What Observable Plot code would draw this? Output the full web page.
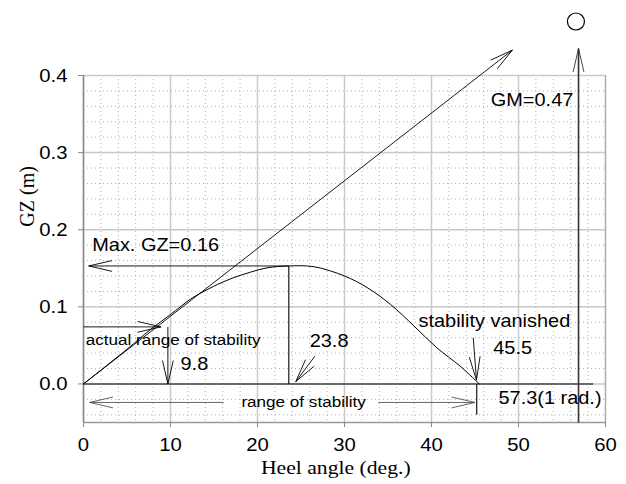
<!DOCTYPE html>
<html><head><meta charset="utf-8">
<script src="https://cdn.jsdelivr.net/npm/d3@7"></script>
<script src="https://cdn.jsdelivr.net/npm/@observablehq/plot@0.6"></script>
<style>body{margin:0;background:#fff}</style>
</head><body><div id="chart"></div>
<script>
// ---- data ----
const heelAngle = [0, 5, 7.7, 10, 12.3, 13.5, 15.4, 17.3, 19.2, 21.1, 23.6, 26.5, 30, 32.6, 35.3, 38, 40.6, 43.3, 45.5];
const gzValues  = [0, 0.045, 0.0706, 0.090, 0.110, 0.118, 0.129, 0.138, 0.145, 0.1506, 0.153, 0.152, 0.140, 0.125, 0.103, 0.075, 0.047, 0.023, 0];

const xTicks = [0, 10, 20, 30, 40, 50, 60];
const yTicks = [0, 0.1, 0.2, 0.3, 0.4];

// annotation arrows (start -> tip), in data units
const arrowNames  = ["tangent", "gm", "maxGZ", "actualRange", "a98", "a238", "vanish", "rangeLeft", "rangeRight"];
const arrowStartX = [0, 56.9, 23.6, 0, 9.7, 26.6, 44.8, 16.1, 33.9];
const arrowStartY = [0, -0.05, 0.153, 0.074, 0.074, 0.036, 0.060, -0.024, -0.024];
const arrowTipX   = [49.3, 56.9, 0.6, 8.9, 9.7, 24.4, 45.17, 0.7, 45.0];
const arrowTipY   = [0.433, 0.435, 0.153, 0.074, 0.0, 0.003, 0.005, -0.024, -0.024];

// plain lines
const lineStartX = [0, 23.6, 45.2];
const lineStartY = [0, 0, 0];
const lineEndX   = [58.6, 23.6, 45.2];
const lineEndY   = [0, 0.153, -0.04];

// GM point
const gmPointX = [56.6];
const gmPointY = [0.47];

// texts
const labelTexts = ["Max. GZ=0.16", "GM=0.47", "actual range of stability", "9.8", "23.8", "stability vanished", "45.5", "57.3(1 rad.)", "range of stability"];
const labelX     = [1.0, 56.3, 0.25, 11.15, 26.0, 38.5, 47.1, 47.7, 25.3];
const labelY     = [0.180, 0.3675, 0.057, 0.0256, 0.0555, 0.081, 0.0457, -0.019, -0.024];

// ---- layout ----
const W = 626, H = 484;
const mL = 83, mR = 21, mT = 75, mB = 62;
const xDomain = [0, 60], yDomain = [-0.05, 0.4];
const sx = Plot.scale({x: {domain: xDomain, range: [mL, W - mR]}});
const sy = Plot.scale({y: {domain: yDomain, range: [H - mB, mT]}});

const curve = heelAngle.map((x, i) => ({x, y: gzValues[i]}));
const arrows = arrowNames.map((name, i) => ({name, x1: arrowStartX[i], y1: arrowStartY[i], x2: arrowTipX[i], y2: arrowTipY[i]}));
const lines = lineStartX.map((x1, i) => ({x1, y1: lineStartY[i], x2: lineEndX[i], y2: lineEndY[i]}));
const labels = labelTexts.map((text, i) => ({text, x: labelX[i], y: labelY[i]}));

function heads(list, L, deg) {
  const out = [];
  const t = deg * Math.PI / 180;
  for (const a of list) {
    const px1 = sx.apply(a.x1), py1 = sy.apply(a.y1), px2 = sx.apply(a.x2), py2 = sy.apply(a.y2);
    const len = Math.hypot(px1 - px2, py1 - py2);
    const ux = (px1 - px2) / len, uy = (py1 - py2) / len;
    for (const s of [-1, 1]) {
      const c = Math.cos(s * t), si = Math.sin(s * t);
      const wx = px2 + L * (ux * c - uy * si), wy = py2 + L * (ux * si + uy * c);
      out.push({name: a.name, x1: a.x2, y1: a.y2, x2: sx.invert(wx), y2: sy.invert(wy)});
    }
  }
  return out;
}
const arrowColor = (d) => d.name.startsWith("range") ? "#555" : (d.name === "gm" ? "#333" : "#000");
const headData = heads(arrows, 24, 13);

const sans = "'Liberation Sans', Arial, Helvetica, sans-serif";
const serif = "'Liberation Serif', 'Times New Roman', serif";
const smallSet = new Set(["actual range of stability", "range of stability"]);
const endSet = new Set(["GM=0.47"]);
const middleSet = new Set(["range of stability"]);
const startLabels = labels.filter(d => !endSet.has(d.text) && !middleSet.has(d.text));
const endLabels = labels.filter(d => endSet.has(d.text));
const middleLabels = labels.filter(d => middleSet.has(d.text));
const fs = d => smallSet.has(d.text) ? 15 : 17.5;

const chart = Plot.plot({
  width: W, height: H,
  marginLeft: mL, marginRight: mR, marginTop: mT, marginBottom: mB,
  x: {domain: xDomain},
  y: {domain: yDomain},
  style: {fontFamily: sans, background: "#fff", overflow: "visible"},
  marks: [
    // minor grid
    Plot.gridX({ticks: d3.range(2, 60, 2), stroke: "#b0b0b0", strokeOpacity: 1, strokeDasharray: "1,3", strokeWidth: 1}),
    Plot.gridY({ticks: d3.range(-2, 20).map(k => +(k * 0.02).toFixed(2)), stroke: "#b0b0b0", strokeOpacity: 1, strokeDasharray: "1,3", strokeWidth: 1}),
    // major grid
    Plot.gridX({ticks: xTicks, stroke: "#cacaca", strokeOpacity: 1, strokeWidth: 1.5}),
    Plot.gridY({ticks: yTicks, stroke: "#cacaca", strokeOpacity: 1, strokeWidth: 1.5}),
    // frame
    Plot.ruleX([60], {stroke: "#aaa", strokeWidth: 1.2}),
    Plot.ruleY([-0.05], {stroke: "#999", strokeWidth: 1.5}),
    Plot.ruleX([0], {stroke: "#888", strokeWidth: 1.5}),
    // axes
    Plot.axisX({ticks: xTicks, tickSize: 5, tickPadding: 10, fontSize: 19, stroke: "#888", fill: "#000", label: null}),
    Plot.axisY({ticks: yTicks, tickSize: 5, tickPadding: 11, fontSize: 19, stroke: "#888", fill: "#000", label: null, tickFormat: d => d.toFixed(1)}),
    // lines
    Plot.link(lines, {x1: "x1", y1: "y1", x2: "x2", y2: "y2", stroke: "#000", strokeWidth: 1.1}),
    // arrows
    Plot.link(arrows, {x1: "x1", y1: "y1", x2: "x2", y2: "y2", stroke: arrowColor, strokeWidth: d => d.name === "gm" ? 1.6 : 0.9}),
    Plot.link(headData, {x1: "x1", y1: "y1", x2: "x2", y2: "y2", stroke: arrowColor, strokeWidth: 0.9}),
    // GZ curve
    Plot.line(curve, {x: "x", y: "y", curve: "catmull-rom", stroke: "#000", strokeWidth: 1}),
    // GM point
    Plot.dot(gmPointX.map((x, i) => ({x, y: gmPointY[i]})), {x: "x", y: "y", r: 8.5, stroke: "#000", fill: "none", strokeWidth: 1.2}),
    // annotation texts
    Plot.text(startLabels, {x: "x", y: "y", text: "text", textAnchor: "start", fontSize: fs, fill: "#000"}),
    Plot.text(endLabels, {x: "x", y: "y", text: "text", textAnchor: "end", fontSize: fs, fill: "#000"}),
    Plot.text(middleLabels, {x: "x", y: "y", text: "text", textAnchor: "middle", fontSize: fs, fill: "#000"}),
    // axis titles
    Plot.text(["Heel angle (deg.)"], {x: 29.0, y: -0.05, dy: 45.5, text: d => d, fontFamily: serif, fontSize: 19, fill: "#000"}),
    Plot.text(["GZ (m)"], {frameAnchor: "left", y: 0.204, dx: -56, text: d => d, rotate: -90, fontFamily: serif, fontSize: 20, fill: "#000"})
  ]
});

// slight horizontal stretch of text as in the reference
chart.querySelectorAll("text").forEach(t => {
  const tr = t.getAttribute("transform") || "";
  if (tr.includes("rotate")) return;
  const g = t.closest("g[aria-label]");
  const lbl = g ? g.getAttribute("aria-label") : "";
  const s = lbl && lbl.includes("tick label") ? 1.07 : 1.14;
  if (tr) t.setAttribute("transform", tr + ` scale(${s},1)`);
  else {
    const x = +(t.getAttribute("x") || 0), y = +(t.getAttribute("y") || 0);
    t.setAttribute("transform", `translate(${x},${y}) scale(${s},1) translate(${-x},${-y})`);
  }
});

document.getElementById("chart").appendChild(chart);
</script>
</body></html>
